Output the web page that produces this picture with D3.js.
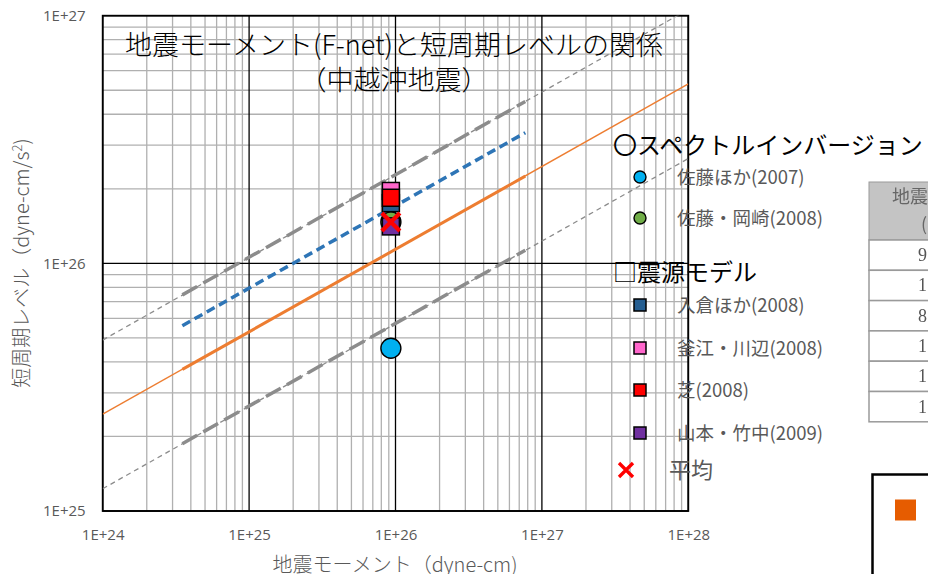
<!DOCTYPE html>
<html>
<head>
<meta charset="utf-8">
<script src="https://cdn.jsdelivr.net/npm/d3@7"></script>
<style>
body { margin:0; background:#fff; }
svg { display:block; }
</style>
</head>
<body>
<div id="chart"></div>
<script>
// axis ticks
var xTickValues = [1e24, 1e25, 1e26, 1e27, 1e28];
var xTickLabels = ["1E+24", "1E+25", "1E+26", "1E+27", "1E+28"];
var yTickValues = [1e25, 1e26, 1e27];
var yTickLabels = ["1E+25", "1E+26", "1E+27"];

// points (moment, level)
var pointNames = ["佐藤ほか(2007)", "佐藤・岡崎(2008)", "入倉ほか(2008)", "釜江・川辺(2008)", "芝(2008)", "山本・竹中(2009)", "平均"];
var pointMoment = [9.3e25, 9.3e25, 9.3e25, 9.3e25, 9.3e25, 9.3e25, 9.3e25];
var pointLevel = [4.54e25, 1.47e26, 1.75e26, 1.96e26, 1.84e26, 1.41e26, 1.47e26];

// reference lines, end points
var fullMoment = [1e24, 1e28];
var danLevel = [2.46e25, 5.3e26];
var upperLevel = [4.9e25, 1.06e27];
var lowerLevel = [1.23e25, 2.65e26];
var rangeMoment = [3.5e24, 7.7e26];
var danRangeLevel = [3.73e25, 2.25e26];
var upperRangeLevel = [7.46e25, 4.5e26];
var lowerRangeLevel = [1.87e25, 1.13e26];
var blueLevel = [5.6e25, 3.37e26];

// table on the right (cut off)
var tableHeader = ["地震モーメント", "(dyne-cm)"];
var tableRows = ["9.3E+25", "1.1E+26", "8.5E+25", "1.2E+26", "1.4E+26", "1.0E+26"];

// styles
var pointShape = ["circle", "circle", "square", "square", "square", "square", "cross"];
var pointColor = ["#00b0f0", "#70ad47", "#255e91", "#ff66cc", "#ff0000", "#7030a0", "#ff0000"];

var W = 928, H = 574;
var jp = "'Noto Sans CJK JP', 'Noto Sans', sans-serif";

var svg = d3.select("#chart").append("svg")
    .attr("width", W)
    .attr("height", H);

var x = d3.scaleLog().domain([1e24, 1e28]).range([102.7, 688.3]);
var y = d3.scaleLog().domain([1e25, 1e27]).range([511, 15.7]);

svg.append("defs").append("clipPath").attr("id", "plotclip")
  .append("rect")
    .attr("x", x.range()[0]).attr("y", y.range()[1])
    .attr("width", x.range()[1] - x.range()[0])
    .attr("height", y.range()[0] - y.range()[1]);

var blur = svg.select("defs").append("filter").attr("id", "soft");
blur.append("feGaussianBlur").attr("stdDeviation", 0.7);

// table (pasted picture, cut by the page edge)
var tbl = svg.append("g").attr("filter", "url(#soft)");
tbl.append("rect")
    .attr("x", 869).attr("y", 182).attr("width", 120).attr("height", 58)
    .attr("fill", "#c4c4c4").attr("stroke", "#9a9a9a");
var rowTop = 240, rowH = 30.3;
tableRows.forEach(function(r, i) {
  tbl.append("rect")
      .attr("x", 869).attr("y", rowTop + i * rowH).attr("width", 120).attr("height", rowH)
      .attr("fill", "#fff").attr("stroke", "#9a9a9a").attr("stroke-width", 1.5);
  tbl.append("text")
      .attr("x", 918).attr("y", rowTop + i * rowH + 21)
      .attr("font-family", "'Liberation Serif', serif").attr("font-size", 18)
      .attr("fill", "#555").text(r);
});
tbl.append("text").attr("x", 892).attr("y", 203)
    .attr("font-family", jp).attr("font-size", 18).attr("fill", "#666").text(tableHeader[0]);
tbl.append("text").attr("x", 921).attr("y", 231)
    .attr("font-family", jp).attr("font-size", 18).attr("fill", "#666").text(tableHeader[1]);

// box bottom right
svg.append("rect")
    .attr("x", 872.5).attr("y", 474.5).attr("width", 120).attr("height", 150)
    .attr("fill", "#fff").attr("stroke", "#000").attr("stroke-width", 2.5);
svg.append("rect")
    .attr("x", 895).attr("y", 499.5).attr("width", 21).attr("height", 21)
    .attr("fill", "#e65c00");

// grid
var grid = svg.append("g");
x.ticks().forEach(function(t) {
  var major = Math.abs(Math.log10(t) - Math.round(Math.log10(t))) < 1e-9;
  grid.append("line")
      .attr("x1", x(t)).attr("x2", x(t))
      .attr("y1", y.range()[0]).attr("y2", y.range()[1])
      .attr("stroke", major ? "#000" : "#b0b0b0")
      .attr("stroke-width", 1.3);
});
y.ticks().forEach(function(t) {
  var major = Math.abs(Math.log10(t) - Math.round(Math.log10(t))) < 1e-9;
  grid.append("line")
      .attr("y1", y(t)).attr("y2", y(t))
      .attr("x1", x.range()[0]).attr("x2", x.range()[1])
      .attr("stroke", major ? "#000" : "#b0b0b0")
      .attr("stroke-width", 1.3);
});
// raise the black ones over the gray ones
grid.selectAll("line").filter(function() { return d3.select(this).attr("stroke") == "#000"; }).raise();

svg.append("rect")
    .attr("x", x.range()[0]).attr("y", y.range()[1])
    .attr("width", x.range()[1] - x.range()[0])
    .attr("height", y.range()[0] - y.range()[1])
    .attr("fill", "none").attr("stroke", "#000").attr("stroke-width", 1.8);

// axes
var xAxis = svg.append("g")
    .attr("transform", "translate(0," + y.range()[0] + ")")
    .call(d3.axisBottom(x).tickValues(xTickValues)
      .tickFormat(function(d, i) { return xTickLabels[i]; })
      .tickSize(0).tickPadding(18));
var yAxis = svg.append("g")
    .attr("transform", "translate(" + x.range()[0] + ",0)")
    .call(d3.axisLeft(y).tickValues(yTickValues)
      .tickFormat(function(d, i) { return yTickLabels[i]; })
      .tickSize(0).tickPadding(17));
[xAxis, yAxis].forEach(function(a) {
  a.select(".domain").remove();
  a.selectAll("text")
      .attr("font-family", "'Open Sans', sans-serif")
      .attr("font-size", 15)
      .attr("fill", "#595959");
});

// lines
var line = d3.line()
    .x(function(d) { return x(d[0]); })
    .y(function(d) { return y(d[1]); });
var lines = svg.append("g").attr("clip-path", "url(#plotclip)");
function drawLine(ms, ls, color, width, dash) {
  lines.append("path")
      .attr("d", line(d3.zip(ms, ls)))
      .attr("fill", "none")
      .attr("stroke", color)
      .attr("stroke-width", width)
      .attr("stroke-dasharray", dash);
}
drawLine(fullMoment, upperLevel, "#8c8c8c", 1.3, "5,4");
drawLine(fullMoment, lowerLevel, "#8c8c8c", 1.3, "5,4");
drawLine(fullMoment, danLevel, "#ed7d31", 1.4, null);
drawLine(rangeMoment, upperRangeLevel, "#8c8c8c", 3.5, "17,7");
drawLine(rangeMoment, lowerRangeLevel, "#8c8c8c", 3.5, "17,7");
drawLine(rangeMoment, danRangeLevel, "#ed7d31", 3, null);
drawLine(rangeMoment, blueLevel, "#2e75b6", 3.5, "9,5");

// markers
function marker(g, shape, color, cx, cy, s) {
  if (shape == "circle") {
    g.append("circle").attr("cx", cx).attr("cy", cy).attr("r", s / 2)
        .attr("fill", color).attr("stroke", "#000").attr("stroke-width", 1.4);
  } else if (shape == "square") {
    g.append("rect").attr("x", cx - s / 2).attr("y", cy - s / 2)
        .attr("width", s).attr("height", s)
        .attr("fill", color).attr("stroke", "#000").attr("stroke-width", 1.5);
  } else {
    var h = s / 2;
    g.append("path")
        .attr("d", "M" + (cx - h) + "," + (cy - h) + "L" + (cx + h) + "," + (cy + h) +
                   "M" + (cx - h) + "," + (cy + h) + "L" + (cx + h) + "," + (cy - h))
        .attr("stroke", color).attr("stroke-width", s / 4.2).attr("fill", "none");
  }
}
var pts = svg.append("g");
pointNames.forEach(function(n, i) {
  var s = pointShape[i] == "circle" ? 20 : (pointShape[i] == "square" ? 17 : 18);
  marker(pts, pointShape[i], pointColor[i], x(pointMoment[i]), y(pointLevel[i]), s);
});

// title
var title = svg.append("text")
    .attr("text-anchor", "middle")
    .attr("font-family", jp).attr("font-weight", 300)
    .attr("font-size", 27).attr("fill", "#000");
title.append("tspan").attr("x", 394).attr("y", 55).text("地震モーメント(F-net)と短周期レベルの関係");
title.append("tspan").attr("x", 394).attr("y", 90).text("（中越沖地震）");

// axis titles
svg.append("text")
    .attr("x", 395).attr("y", 572)
    .attr("text-anchor", "middle")
    .attr("font-family", jp).attr("font-weight", 300)
    .attr("font-size", 20).attr("fill", "#595959")
    .text("地震モーメント（dyne-cm)");
var yt = svg.append("text")
    .attr("transform", "translate(29,263) rotate(-90)")
    .attr("text-anchor", "middle")
    .attr("font-family", jp).attr("font-weight", 300)
    .attr("font-size", 20).attr("fill", "#595959");
yt.append("tspan").text("短周期レベル（dyne-cm/s");
yt.append("tspan").attr("dy", -7).attr("font-size", 13).text("2");
yt.append("tspan").attr("dy", 7).text(")");

// legend
var leg = svg.append("g");
leg.append("text").attr("x", 613).attr("y", 154)
    .attr("font-family", jp).attr("font-size", 24).attr("fill", "#000")
    .text("〇スペクトルインバージョン");
leg.append("text").attr("x", 613).attr("y", 281)
    .attr("font-family", jp).attr("font-size", 24).attr("fill", "#000")
    .text("□震源モデル");
var legY = [177, 218, 305, 348, 390, 433, 470];
pointNames.forEach(function(n, i) {
  var isMean = pointShape[i] == "cross";
  var mx = isMean ? 626 : 640;
  var s = pointShape[i] == "circle" ? 12 : (pointShape[i] == "square" ? 12 : 14);
  marker(leg, pointShape[i], pointColor[i], mx, legY[i], s);
  leg.append("text")
      .attr("x", isMean ? 669 : 677).attr("y", legY[i])
      .attr("dy", "0.36em")
      .attr("font-family", jp)
      .attr("font-size", isMean ? 22 : 18.5)
      .attr("fill", "#595959")
      .text(n);
});
</script>
</body>
</html>
